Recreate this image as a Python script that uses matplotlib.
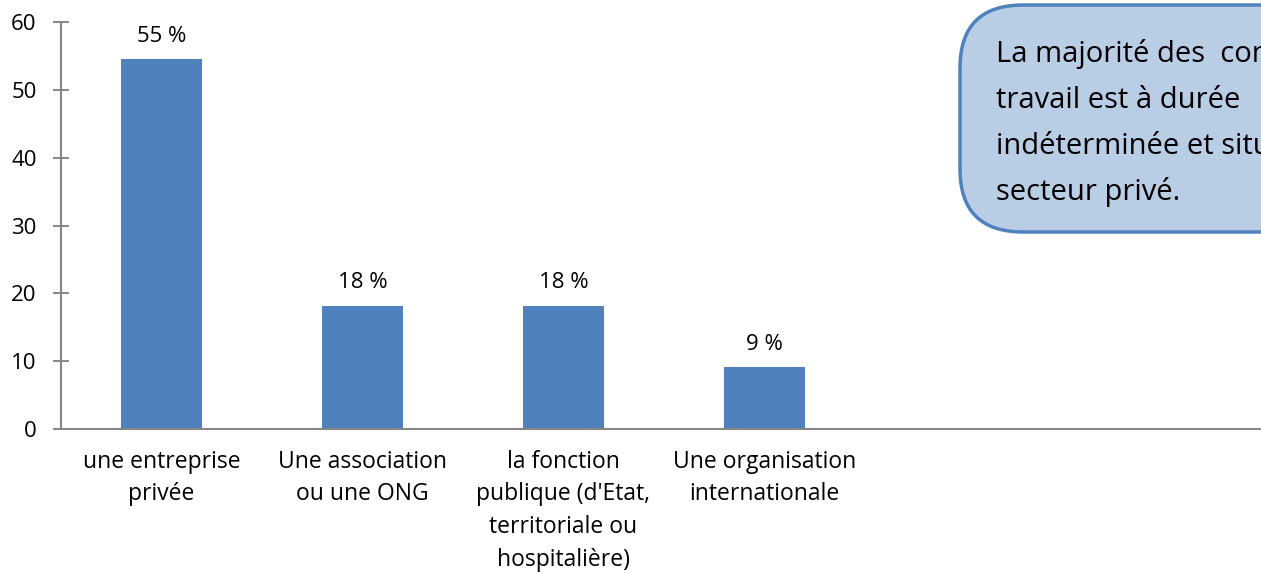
import matplotlib.pyplot as plt
from matplotlib.patches import FancyBboxPatch

plt.rcParams['font.family'] = ['Open Sans', 'DejaVu Sans']

categories = ['une entreprise\nprivée', 'Une association\nou une ONG',
              "la fonction\npublique (d'Etat,\nterritoriale ou\nhospitalière)",
              'Une organisation\ninternationale']
values = [54.5, 18.2, 18.2, 9.1]
labels = ['55 %', '18 %', '18 %', '9 %']
note_lines = ['La majorité des  contrats de', 'travail est à durée',
              'indéterminée et situés dans le', 'secteur privé.']

W, H = 1261, 573
fig = plt.figure(figsize=(W / 100, H / 100), dpi=100)
ax = fig.add_axes([61 / W, (H - 429) / H, 1206 / W, 407 / H])

x = list(range(len(categories)))
bars = ax.bar(x, values, width=0.4, color='#4F81BD')
for b, lab in zip(bars, labels):
    ax.annotate(lab, (b.get_x() + b.get_width() / 2, b.get_height()),
                xytext=(0, 9), textcoords='offset points',
                ha='center', va='bottom', fontsize=16)

ax.set_xlim(-0.5, 5.5)
ax.set_ylim(0, 60)
ax.set_yticks(range(0, 61, 10))
ax.set_xticks(x)
ax.set_xticklabels(categories, fontsize=16.5, linespacing=1.48)
ax.tick_params(axis='x', length=0, pad=15)
ax.tick_params(axis='y', direction='inout', length=11, width=1.4,
               color='#868686', labelsize=16, pad=12)
for s in ['top', 'right']:
    ax.spines[s].set_visible(False)
for s in ['left', 'bottom']:
    ax.spines[s].set_color('#868686')
    ax.spines[s].set_linewidth(1.5)

# encadré de commentaire (coupé à droite comme dans l'original)
box = FancyBboxPatch((960 / W, (H - 232) / H), 400 / W, 227 / H,
                     boxstyle='round,pad=0,rounding_size=0.05',
                     transform=fig.transFigure, facecolor='#B9CDE5',
                     edgecolor='#4F81BD', linewidth=2.5, mutation_aspect=W / H)
fig.patches.append(box)
for i, line in enumerate(note_lines):
    fig.text(996 / W, (H - 62 - i * 46) / H, line, fontsize=21,
             ha='left', va='baseline', color='black')

fig.savefig('out.png', dpi=100)
